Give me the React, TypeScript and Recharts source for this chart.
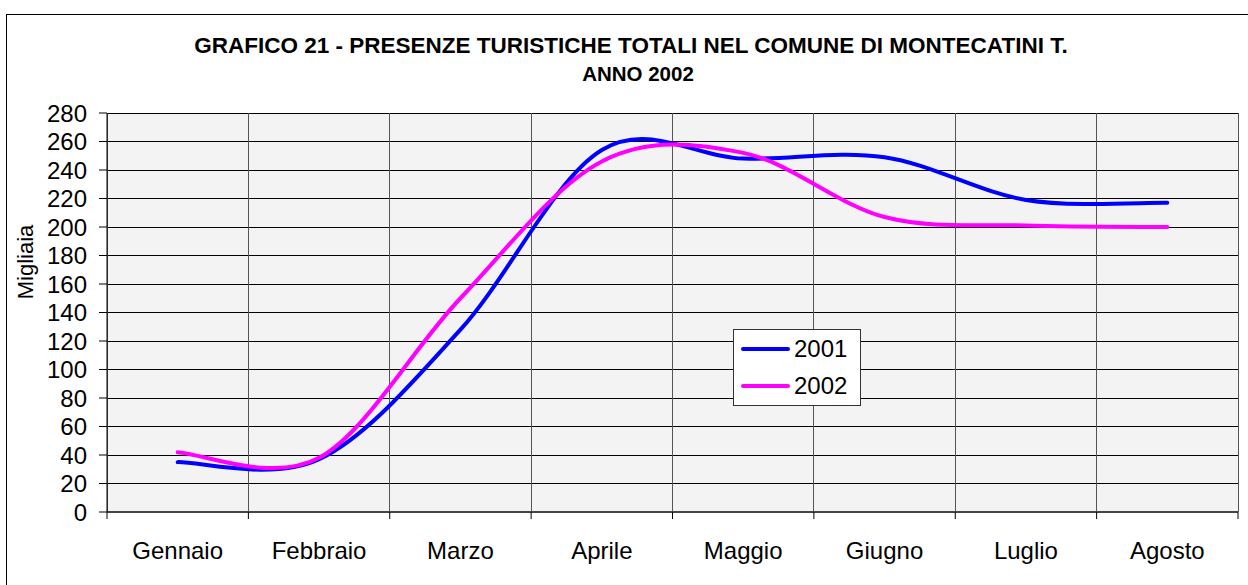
import { LineChart, Line, XAxis, YAxis, CartesianGrid, Legend } from "recharts";

const months = ["Gennaio", "Febbraio", "Marzo", "Aprile", "Maggio", "Giugno", "Luglio", "Agosto"];
const values2001 = [35, 37, 128, 254, 248, 249, 219, 217];
const values2002 = [42, 38, 150, 246, 252, 207, 201, 200];
const yTicks = [0, 20, 40, 60, 80, 100, 120, 140, 160, 180, 200, 220, 240, 260, 280];

const data = months.map((month, i) => ({ month, a2001: values2001[i], a2002: values2002[i] }));

const font = 'Arial, "Liberation Sans", sans-serif';
const plotLeft = 107;
const plotWidth = 1248 - plotLeft - 10;
const step = plotWidth / months.length;

// smoothing close to Excel's "smoothed line" (bezier, arms capped at half a segment)
const excelSmooth = (context: any) => {
  let pts: number[][] = [];
  return {
    areaStart() {},
    areaEnd() {},
    lineStart() {
      pts = [];
    },
    point(x: number, y: number) {
      pts.push([+x, +y]);
    },
    lineEnd() {
      const n = pts.length;
      if (!n) return;
      context.moveTo(pts[0][0], pts[0][1]);
      for (let i = 0; i < n - 1; i++) {
        const p0 = pts[Math.max(i - 1, 0)];
        const p1 = pts[i];
        const p2 = pts[i + 1];
        const p3 = pts[Math.min(i + 2, n - 1)];
        const d12 = Math.hypot(p2[0] - p1[0], p2[1] - p1[1]);
        const d02 = Math.hypot(p2[0] - p0[0], p2[1] - p0[1]);
        const d13 = Math.hypot(p3[0] - p1[0], p3[1] - p1[1]);
        let f1 = 1 / 6;
        let f2 = 1 / 6;
        if (d02 > 0 && d02 * f1 > d12 / 2) f1 = d12 / 2 / d02;
        if (d13 > 0 && d13 * f2 > d12 / 2) f2 = d12 / 2 / d13;
        context.bezierCurveTo(
          p1[0] + (p2[0] - p0[0]) * f1,
          p1[1] + (p2[1] - p0[1]) * f1,
          p2[0] - (p3[0] - p1[0]) * f2,
          p2[1] - (p3[1] - p1[1]) * f2,
          p2[0],
          p2[1]
        );
      }
    },
  };
};

// gridlines sit between the categories
const boundaryLines = ({ xAxis, offset }: any) => {
  const sc = xAxis && xAxis.scale;
  if (typeof sc === "function") {
    const pos = months.map((m) => sc(m));
    if (pos.every((p: any) => typeof p === "number" && !isNaN(p))) {
      const s = pos[1] - pos[0];
      return [...pos.map((p: number) => p - s / 2), pos[pos.length - 1] + s / 2];
    }
  }
  const left = offset ? offset.left : plotLeft;
  return months.map((_, i) => left + step * i).concat(left + plotWidth);
};

const MonthTick = ({ x, y, payload, index }: any) => (
  <g>
    <line x1={x - step / 2} x2={x - step / 2} y1={y} y2={y + 7} stroke="#000" />
    {index === months.length - 1 && <line x1={x + step / 2} x2={x + step / 2} y1={y} y2={y + 7} stroke="#000" />}
    <text x={x} y={y + 30} dy="0.71em" textAnchor="middle" fill="#000" fontSize={24} fontFamily={font}>
      {payload.value}
    </text>
  </g>
);

const LegendBox = ({ payload }: any) => (
  <div
    style={{
      border: "1px solid #333",
      background: "#fff",
      width: 126,
      height: 75,
      fontFamily: font,
      fontSize: 24,
      color: "#000",
    }}
  >
    {(payload || []).map((p: any) => (
      <div key={p.value} style={{ display: "flex", alignItems: "center", height: 37, paddingLeft: 7 }}>
        <span
          style={{
            display: "inline-block",
            width: 49,
            height: 4,
            borderRadius: 2,
            background: p.color,
            marginRight: 4,
          }}
        />
        <span>{p.value}</span>
      </div>
    ))}
  </div>
);

export default function App() {
  return (
    <div style={{ position: "relative", width: 1248, height: 585, overflow: "hidden", background: "#fff" }}>
      <style>{`body{margin:0}`}</style>
      <div
        style={{
          position: "absolute",
          left: 6,
          top: 14,
          width: 1400,
          height: 800,
          border: "1.5px solid #000",
        }}
      />
      <div
        style={{
          position: "absolute",
          left: 0,
          top: 32,
          width: 1262,
          textAlign: "center",
          fontFamily: font,
          fontWeight: "bold",
          lineHeight: "28px",
          color: "#000",
        }}
      >
        <div style={{ fontSize: 22.5 }}>GRAFICO 21 - PRESENZE TURISTICHE TOTALI NEL COMUNE DI MONTECATINI T.</div>
        <div style={{ fontSize: 20.5, paddingLeft: 14 }}>ANNO 2002</div>
      </div>
      <div
        style={{
          position: "absolute",
          left: 26,
          top: 262,
          transform: "translate(-50%, -50%) rotate(-90deg)",
          fontFamily: font,
          fontSize: 22,
          color: "#000",
          whiteSpace: "nowrap",
        }}
      >
        Migliaia
      </div>
      <div style={{ position: "absolute", left: 0, top: 0 }}>
        <LineChart width={1248} height={585} data={data} margin={{ top: 113, right: 10, bottom: 0, left: 0 }}>
          <CartesianGrid
            horizontal
            vertical={false}
            stroke="#000"
            fill="#f3f3f3"
            fillOpacity={1}
            shapeRendering="crispEdges"
          />
          <CartesianGrid
            horizontal={false}
            vertical
            stroke="#555"
            shapeRendering="crispEdges"
            verticalCoordinatesGenerator={boundaryLines}
          />
          <XAxis
            dataKey="month"
            type="category"
            height={73}
            padding={{ left: step / 2, right: step / 2 }}
            axisLine={{ stroke: "#444", strokeWidth: 2 }}
            tickLine={false}
            tickSize={0}
            tickMargin={0}
            interval={0}
            tick={<MonthTick />}
          />
          <YAxis
            width={plotLeft}
            domain={[0, 280]}
            ticks={yTicks}
            interval={0}
            tickSize={8}
            tickMargin={12}
            axisLine={{ stroke: "#000" }}
            tickLine={{ stroke: "#000" }}
            tick={{ fill: "#000", fontSize: 24, fontFamily: font }}
          />
          <Legend
            layout="horizontal"
            verticalAlign="middle"
            align="center"
            content={<LegendBox />}
            wrapperStyle={{ left: 733, top: 329, width: "auto", height: "auto" }}
          />
          <Line
            dataKey="a2001"
            name="2001"
            type={excelSmooth as any}
            stroke="#0000ff"
            strokeWidth={4}
            strokeLinecap="round"
            dot={false}
            activeDot={false}
            isAnimationActive={false}
          />
          <Line
            dataKey="a2002"
            name="2002"
            type={excelSmooth as any}
            stroke="#ff00ff"
            strokeWidth={4}
            strokeLinecap="round"
            dot={false}
            activeDot={false}
            isAnimationActive={false}
          />
        </LineChart>
      </div>
    </div>
  );
}
